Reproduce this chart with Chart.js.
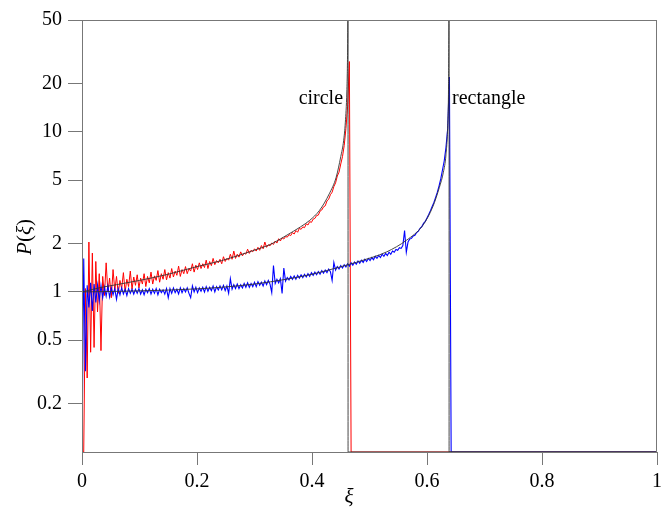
<!DOCTYPE html>
<html>
<head>
<meta charset="utf-8">
<script src="https://cdn.jsdelivr.net/npm/chart.js@4.4.0/dist/chart.umd.min.js"></script>
<style>
    html, body { margin: 0; padding: 0; background: #fff; }
</style>
</head>
<body>
<canvas id="chart" width="667" height="510"></canvas>
<script>
// DATA
const xTicks = [0, 0.2, 0.4, 0.6, 0.8, 1];
const yTicks = [0.2, 0.5, 1, 2, 5, 10, 20, 50];
const FLOOR = 0.1;      // empty bins sit on the bottom of the axis
const BIN = 0.003;      // histogram bin width (xi)

// theory curves, [xi, P]
const circleTheory = [
    [0, 1.0], [0.035, 1.07], [0.06, 1.11], [0.1, 1.18], [0.15, 1.29], [0.2, 1.44],
    [0.243, 1.57], [0.297, 1.81], [0.33, 2.0], [0.355, 2.25], [0.38, 2.55], [0.396, 2.8],
    [0.413, 3.23], [0.43, 4.1], [0.442, 5.2], [0.45, 7.0], [0.455, 8.8], [0.458, 11.5],
    [0.4606, 18], [0.4618, 30], [0.4627, 80], [0.4627, 0.1], [1, 0.1]
];
const rectTheory = [
    [0, 1.0], [0.1, 1.015], [0.2, 1.045], [0.243, 1.07], [0.3, 1.12], [0.355, 1.2],
    [0.4, 1.29], [0.448, 1.43], [0.506, 1.65], [0.53, 1.78], [0.564, 2.1], [0.5925, 2.6],
    [0.61, 3.4], [0.6215, 4.5], [0.6285, 5.6], [0.633, 7.2], [0.636, 11], [0.6375, 20],
    [0.6384, 80], [0.6384, 0.1], [1, 0.1]
];

// simulated histograms, one value per bin starting at xi = 0
const circleHist = [
    0.1, 0.1, 1.05, 0.29, 2.05, 0.42, 1.75, 0.45, 1.55, 0.75,
    1.3, 0.43, 1.25, 0.95, 1.52, 1.0, 1.22, 0.92, 1.38, 1.02,
    1.25, 0.98, 1.18, 1.05, 1.32, 1.0, 1.2, 1.08, 1.35, 1.04,
    1.24, 1.1, 1.28, 1.06, 1.22, 1.12, 1.3, 1.08, 1.25, 1.14,
    1.33, 1.12, 1.26, 1.18, 1.36, 1.15, 1.3, 1.2, 1.38, 1.19,
    1.32, 1.22, 1.4, 1.24, 1.35, 1.27, 1.45, 1.25, 1.38, 1.3,
    1.44, 1.3, 1.4, 1.35, 1.5, 1.33, 1.47, 1.38, 1.52, 1.4,
    1.5, 1.42, 1.58, 1.4, 1.55, 1.46, 1.62, 1.48, 1.57, 1.52,
    1.6, 1.5, 1.66, 1.55, 1.62, 1.58, 1.72, 1.6, 1.8, 1.62,
    1.72, 1.65, 1.78, 1.68, 1.75, 1.72, 1.85, 1.74, 1.82, 1.78,
    1.86, 1.8, 1.9, 1.82, 1.95, 1.86, 2.05, 1.9, 1.97, 1.94,
    2.02, 1.98, 2.08, 2.02, 2.15, 2.08, 2.18, 2.14, 2.22, 2.2,
    2.28, 2.25, 2.35, 2.3, 2.42, 2.36, 2.5, 2.46, 2.55, 2.52,
    2.66, 2.62, 2.75, 2.72, 2.85, 2.88, 3.0, 3.02, 3.2, 3.25,
    3.4, 3.45, 3.7, 3.8, 4.05, 4.2, 4.55, 4.8, 5.3, 5.6,
    6.3, 7.0, 8.2, 10.5, 14.5, 27.5, 0.1
];
const rectHist = [
    0.1, 1.62, 0.32, 1.1, 0.8, 1.14, 0.76, 1.12, 0.86, 1.1,
    0.88, 1.1, 0.92, 1.07, 0.94, 1.09, 0.93, 1.06, 0.96, 1.05,
    0.9, 1.05, 0.96, 1.06, 0.97, 1.04, 0.95, 1.05, 0.98, 1.04,
    0.97, 1.04, 0.98, 1.05, 0.97, 1.03, 0.96, 1.04, 0.99, 1.05,
    0.97, 1.04, 0.98, 1.05, 0.96, 1.04, 0.99, 1.03, 0.97, 1.05,
    0.92, 1.05, 0.98, 1.06, 0.99, 1.04, 0.97, 1.06, 0.99, 1.05,
    1.0, 1.06, 0.98, 0.92, 1.09, 1.0, 1.07, 0.99, 1.06, 1.01,
    1.07, 1.0, 1.08, 1.01, 1.07, 1.02, 1.09, 1.0, 1.08, 1.03,
    1.09, 1.03, 1.1, 1.02, 1.09, 0.98, 1.21, 1.04, 1.11, 1.05,
    1.12, 1.05, 1.11, 1.06, 1.13, 1.07, 1.14, 1.07, 1.13, 1.08,
    1.15, 1.08, 1.16, 1.1, 1.15, 1.09, 1.17, 1.11, 1.18, 1.12,
    0.99, 1.46, 1.13, 1.2, 1.14, 1.21, 0.98, 1.41, 1.17, 1.23,
    1.19, 1.25, 1.2, 1.26, 1.2, 1.27, 1.22, 1.28, 1.23, 1.29,
    1.24, 1.3, 1.25, 1.32, 1.27, 1.33, 1.28, 1.34, 1.29, 1.36,
    1.31, 1.37, 1.32, 1.39, 1.34, 1.18, 1.53, 1.37, 1.44, 1.39,
    1.46, 1.41, 1.48, 1.43, 1.5, 1.45, 1.52, 1.47, 1.54, 1.49,
    1.56, 1.51, 1.58, 1.53, 1.6, 1.55, 1.62, 1.57, 1.64, 1.59,
    1.67, 1.62, 1.69, 1.64, 1.72, 1.67, 1.74, 1.69, 1.77, 1.72,
    1.8, 1.77, 1.84, 1.82, 1.89, 1.87, 1.95, 2.42, 1.77, 2.05,
    2.14, 2.16, 2.24, 2.26, 2.35, 2.4, 2.5, 2.56, 2.68, 2.76,
    2.9, 3.05, 3.22, 3.42, 3.62, 3.9, 4.2, 4.6, 5.1, 5.8,
    6.6, 8.0, 10.5, 22.0, 0.1
];

const SERIF = "'Liberation Serif', 'DejaVu Serif', serif";
const AXIS_COLOR = '#777';

function histPoints(values) {
    const pts = values.map((v, i) => ({x: i * BIN, y: v}));
    pts.push({x: 1, y: FLOOR});
    return pts;
}

function curvePoints(arr) {
    return arr.map(p => ({x: p[0], y: p[1]}));
}

// frame + annotations
const extras = {
    id: 'extras',
    afterDatasetsDraw(chart) {
        const {ctx, chartArea: a, scales} = chart;
        ctx.save();
        ctx.strokeStyle = AXIS_COLOR;
        ctx.lineWidth = 1;
        ctx.strokeRect(a.left + 0.5, a.top + 0.5, a.right - a.left - 1, a.bottom - a.top);

        ctx.fillStyle = '#000';
        ctx.textBaseline = 'alphabetic';
        ctx.font = '20px ' + SERIF;
        ctx.textAlign = 'right';
        ctx.fillText('circle', scales.x.getPixelForValue(0.4627) - 5, scales.y.getPixelForValue(15));
        ctx.textAlign = 'left';
        ctx.fillText('rectangle', scales.x.getPixelForValue(0.6384) + 3, scales.y.getPixelForValue(15));

        // x title
        ctx.font = 'italic 21px ' + SERIF;
        ctx.textAlign = 'center';
        ctx.fillText('ξ', 349, 503);

        // y title, rotated
        ctx.translate(31, 237);
        ctx.rotate(-Math.PI / 2);
        const parts = [['italic', 'P'], ['normal', '('], ['italic', 'ξ'], ['normal', ')']];
        let total = 0;
        parts.forEach(p => { ctx.font = p[0] + ' 21px ' + SERIF; total += ctx.measureText(p[1]).width; });
        let xx = -total / 2;
        ctx.textAlign = 'left';
        parts.forEach(p => {
            ctx.font = p[0] + ' 21px ' + SERIF;
            ctx.fillText(p[1], xx, 0);
            xx += ctx.measureText(p[1]).width;
        });
        ctx.restore();
    }
};

new Chart(document.getElementById('chart').getContext('2d'), {
    type: 'line',
    data: {
        datasets: [
            {
                label: 'circle theory',
                data: curvePoints(circleTheory),
                borderColor: '#333',
                borderWidth: 0.9,
                cubicInterpolationMode: 'monotone',
            },
            {
                label: 'rectangle theory',
                data: curvePoints(rectTheory),
                borderColor: '#333',
                borderWidth: 0.9,
                cubicInterpolationMode: 'monotone',
            },
            {
                label: 'rectangle',
                data: histPoints(rectHist),
                borderColor: 'rgb(0,0,255)',
                borderWidth: 1.1,
            },
            {
                label: 'circle',
                data: histPoints(circleHist),
                borderColor: 'rgb(255,0,0)',
                borderWidth: 1,
            },
        ],
    },
    options: {
        responsive: false,
        devicePixelRatio: 1,
        animation: false,
        elements: {point: {radius: 0}, line: {tension: 0}},
        layout: {padding: {top: 20, right: 9, left: 0, bottom: 0}},
        plugins: {legend: {display: false}, tooltip: {enabled: false}},
        scales: {
            x: {
                type: 'linear',
                min: 0,
                max: 1,
                afterBuildTicks: (s) => { s.ticks = xTicks.map(v => ({value: v})); },
                afterFit: (s) => { s.height = 58; },
                ticks: {
                    color: '#000',
                    padding: 5,
                    maxRotation: 0,
                    font: {family: SERIF, size: 20},
                    callback: (v) => String(v),
                },
                grid: {drawOnChartArea: false, tickLength: 13, color: AXIS_COLOR},
                border: {color: AXIS_COLOR},
            },
            y: {
                type: 'logarithmic',
                min: 0.1,
                max: 50,
                afterBuildTicks: (s) => { s.ticks = yTicks.map(v => ({value: v})); },
                afterFit: (s) => { s.width = 82; },
                ticks: {
                    color: '#000',
                    padding: 6,
                    font: {family: SERIF, size: 20},
                    callback: (v) => String(v),
                },
                grid: {drawOnChartArea: false, tickLength: 14, color: AXIS_COLOR},
                border: {color: AXIS_COLOR},
            },
        },
    },
    plugins: [extras],
});
</script>
</body>
</html>
